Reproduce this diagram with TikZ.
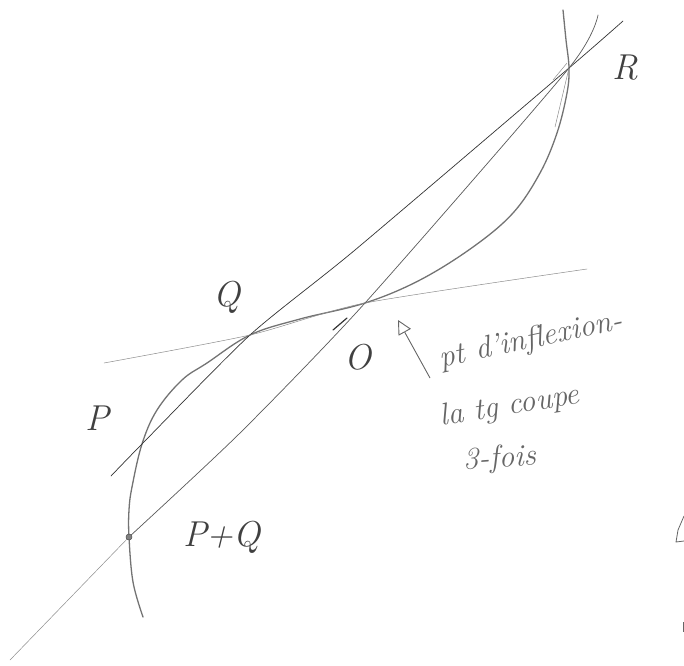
\documentclass[tikz,border=0pt]{standalone}
\usetikzlibrary{arrows.meta}
\begin{document}
\begin{tikzpicture}[x=1pt,y=-1pt,
  pencil/.style={line width=0.7pt,draw=black!80,line cap=round},
  faint/.style={line width=0.5pt,draw=black!45,line cap=round},
  curvestyle/.style={line width=1.3pt,draw=black!55,line cap=round},
  lab/.style={text=black!75,font=\itshape\fontsize{36}{36}\selectfont,inner sep=0pt},
  note/.style={text=black!60,font=\itshape\fontsize{31}{31}\selectfont,inner sep=0pt}]
\useasboundingbox (0,0) rectangle (684,665);
% key points
\coordinate (PQ) at (129,537);
\coordinate (P) at (142,444);
\coordinate (Q) at (250,335);
\coordinate (O) at (365,303);
\coordinate (R) at (569,68);
% free ends
\coordinate (L1a) at (111,476);
\coordinate (L1m) at (355,250);
\coordinate (L1b) at (623,21);
\coordinate (L2a) at (10,660);
\coordinate (L2m) at (240,433);
\coordinate (L2b) at (598,15);
\coordinate (L3a) at (104,363);
\coordinate (L3b) at (587,269);
% cubic curve
\draw[curvestyle] plot[smooth,tension=0.6] coordinates {
  (143,617) (133,582) (PQ) (129,510) (132,487) (P) (157,410) (182,380)
  (207,363) (Q) (300,319) (O) (420,280) (473,247) (513,213) (540,173)
  (557,133) (567,93) (R) (566,40) (563,10)};
% line through P, Q, R
\draw[pencil] plot[smooth,tension=0.4] coordinates {(L1a) (P) (Q) (L1m) (R) (L1b)};
% line through P+Q, O, R
\draw[faint] (L2a) -- (PQ);
\draw[pencil,draw=black!65] plot[smooth,tension=0.4] coordinates {(PQ) (L2m) (O) (R) (L2b)};
\draw[pencil,line width=1.2pt] (333,330) -- (347,318);
% tangent at inflection point
\draw[faint] plot[smooth,tension=0.4] coordinates {(L3a) (Q) (O) (L3b)};
% extra strokes near R
\draw[faint] (555,127) -- (R);
\draw[faint] (553,80) -- (567,63);
% point P+Q
\fill[black!50] (PQ) circle (3);
\draw[black!70,line width=0.5pt] (PQ) circle (3);
% labels
\node[lab] (lR) at (625,68) {R};
\node[lab] (lQ) at (227,297) {Q};
\node[lab] (lO) at (358,357) {O};
\node[lab] (lP) at (97,418) {P};
\node[lab] (lPQ) at (222,537) {P+Q};
% note
\coordinate (arrTail) at (430,378);
\coordinate (arrTip) at (398,320);
\draw[black!60,line width=0.9pt,-{Triangle[open,length=14pt,width=14pt]}] (arrTail) -- (arrTip);
\node[note,rotate=12,anchor=west] (n1) at (440,360) {pt d'inflexion-};
\node[note,rotate=9,anchor=west] (n2) at (440,418) {la tg coupe};
\node[note,rotate=4,anchor=west] (n3) at (463,462) {3-fois};
% fragments at right edge
\draw[black!60,line width=0.8pt] (684,516) -- (678,530) -- (676,542) -- (684,541);
\draw[black!60,line width=0.8pt] (683,622) -- (683,632);
\end{tikzpicture}
\end{document}
